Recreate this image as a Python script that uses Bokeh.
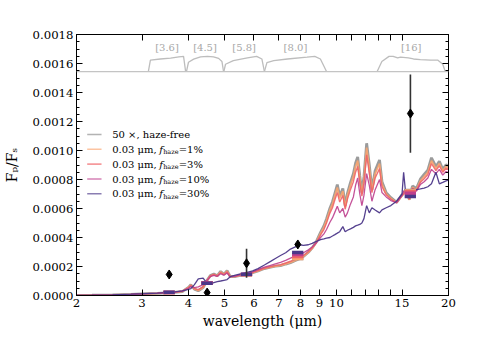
import numpy as np
from bokeh.plotting import figure
from bokeh.models import (Range1d, LinearAxis, LogAxis, FixedTicker, PrintfTickFormatter,
                          CustomJSTickFormatter, Label, Span)
from bokeh.core.properties import value
from bokeh.embed import file_html
from bokeh.resources import INLINE

# ---------------- data (Fp/Fs in units of 1e-4) ----------------
UNIT = 1e-4
wavelength = [2.00, 2.20, 2.50, 2.80, 3.00, 3.30, 3.60, 3.85, 4.00, 4.06,
              4.15, 4.25, 4.38, 4.48, 4.58, 4.68, 4.78, 4.88, 4.98, 5.08,
              5.18, 5.35, 5.55, 5.75, 5.95, 6.15, 6.40, 6.65, 6.85, 7.07,
              7.30, 7.52, 7.75, 7.95, 8.15, 8.40, 8.60, 8.80, 9.06, 9.25,
              9.40, 9.60, 9.75, 9.90, 10.05, 10.20, 10.40, 10.55, 10.70, 10.90,
              11.10, 11.25, 11.40, 11.55, 11.70, 11.85, 12.05, 12.25, 12.45, 12.70,
              13.05, 13.25, 13.60, 14.00, 14.50, 15.00, 15.15, 15.35, 15.70, 16.00,
              16.40, 16.80, 17.20, 17.60, 18.00, 18.50, 18.90, 19.30, 19.70, 20.00]

fp_hazefree = [0.01, 0.02, 0.04, 0.08, 0.11, 0.15, 0.20, 0.27, 0.56, 0.74,
               0.44, 0.33, 0.55, 1.02, 1.38, 1.48, 1.36, 1.66, 1.46, 1.72,
               1.30, 1.31, 1.41, 1.49, 1.57, 1.70, 1.86, 1.96, 2.02, 2.06,
               2.17, 2.27, 2.41, 2.54, 2.70, 2.98, 3.28, 3.65, 4.36, 4.80,
               5.28, 6.02, 6.45, 7.05, 7.65, 6.85, 7.38, 6.20, 7.05, 7.78,
               8.40, 9.12, 9.55, 8.25, 7.10, 8.18, 10.50, 9.00, 7.30, 8.60,
               9.35, 7.85, 7.08, 6.75, 6.42, 6.95, 7.05, 7.30, 6.62, 7.55,
               7.38, 8.02, 8.35, 8.65, 9.50, 8.88, 9.25, 8.70, 9.02, 8.90]

fp_f1 = [0.01, 0.02, 0.04, 0.08, 0.11, 0.15, 0.20, 0.28, 0.55, 0.72,
         0.45, 0.35, 0.55, 1.00, 1.35, 1.45, 1.35, 1.62, 1.45, 1.68,
         1.30, 1.32, 1.42, 1.50, 1.58, 1.70, 1.86, 1.95, 2.02, 2.07,
         2.18, 2.28, 2.42, 2.55, 2.70, 2.97, 3.25, 3.60, 4.28, 4.70,
         5.17, 5.90, 6.30, 6.90, 7.45, 6.70, 7.20, 6.10, 6.90, 7.60,
         8.20, 8.90, 9.30, 8.10, 7.00, 8.00, 10.20, 8.80, 7.24, 8.40,
         9.10, 7.70, 7.00, 6.70, 6.40, 6.90, 7.00, 7.20, 6.60, 7.45,
         7.30, 7.90, 8.20, 8.50, 9.30, 8.76, 9.10, 8.60, 8.90, 8.80]

fp_f3 = [0.01, 0.02, 0.04, 0.08, 0.11, 0.15, 0.20, 0.29, 0.54, 0.70,
         0.47, 0.40, 0.60, 1.02, 1.36, 1.45, 1.36, 1.58, 1.45, 1.64,
         1.30, 1.33, 1.43, 1.51, 1.59, 1.72, 1.88, 1.98, 2.06, 2.12,
         2.24, 2.36, 2.50, 2.62, 2.76, 3.02, 3.28, 3.60, 4.18, 4.55,
         5.00, 5.68, 6.05, 6.60, 7.10, 6.45, 6.90, 5.95, 6.65, 7.30,
         7.85, 8.50, 8.90, 7.80, 6.85, 7.75, 9.70, 8.45, 7.10, 8.10,
         8.75, 7.50, 6.95, 6.65, 6.40, 6.88, 7.02, 7.15, 6.65, 7.40,
         7.25, 7.80, 8.05, 8.35, 9.10, 8.62, 8.95, 8.50, 8.78, 8.70]

fp_f10 = [0.01, 0.02, 0.04, 0.08, 0.11, 0.16, 0.21, 0.30, 0.50, 0.62,
          0.55, 0.60, 0.75, 1.02, 1.30, 1.38, 1.32, 1.50, 1.40, 1.55,
          1.28, 1.33, 1.45, 1.55, 1.63, 1.78, 1.95, 2.08, 2.18, 2.28,
          2.42, 2.58, 2.72, 2.85, 2.95, 3.15, 3.35, 3.60, 4.00, 4.25,
          4.55, 5.05, 5.35, 5.75, 6.15, 5.70, 6.00, 5.40, 5.70, 6.30,
          6.80, 7.60, 8.10, 7.00, 6.20, 6.90, 8.40, 7.60, 6.50, 7.30,
          8.00, 7.10, 6.80, 6.55, 6.40, 6.90, 7.20, 7.10, 6.70, 7.35,
          7.20, 7.65, 7.85, 8.10, 8.70, 8.40, 8.70, 8.30, 8.55, 8.50]

fp_f30 = [0.01, 0.02, 0.05, 0.09, 0.12, 0.17, 0.22, 0.32, 0.42, 0.48,
          0.75, 1.15, 1.20, 0.85, 0.80, 0.88, 0.95, 1.00, 1.05, 1.10,
          1.30, 1.40, 1.50, 1.60, 1.70, 1.85, 2.10, 2.35, 2.55, 2.76,
          2.95, 3.20, 3.35, 3.50, 3.45, 3.50, 3.60, 3.72, 3.85, 3.90,
          3.95, 4.00, 4.10, 4.20, 4.30, 4.40, 4.75, 4.40, 4.50, 4.60,
          4.70, 4.80, 4.85, 4.90, 5.00, 5.30, 6.20, 5.70, 6.05, 5.90,
          5.70, 5.90, 6.05, 6.20, 6.50, 7.00, 8.50, 7.00, 7.10, 7.24,
          7.30, 7.35, 7.40, 7.50, 7.70, 8.50, 7.70, 7.80, 7.90, 7.95]

# band-integrated models and observations
band_wl = [3.55, 4.49, 5.73, 7.87, 15.8]
band_hazefree = [0.20, 0.88, 1.43, 2.55, 7.24]
band_f1 = [0.20, 0.88, 1.43, 2.56, 7.20]
band_f3 = [0.20, 0.87, 1.44, 2.69, 7.15]
band_f10 = [0.21, 0.86, 1.45, 2.83, 7.05]
band_f30 = [0.22, 0.84, 1.46, 2.97, 6.83]
obs = [1.45, 0.20, 2.22, 3.52, 12.55]
obs_err = [0.20, 0.10, 1.00, 0.25, 2.70]

# filter transmission curves
filter_names = ["[3.6]", "[4.5]", "[5.8]", "[8.0]", "[16]"]
filter_wl = [
    [3.12, 3.16, 3.36, 3.58, 3.77, 3.88, 3.93],
    [3.95, 4.00, 4.13, 4.31, 4.50, 4.67, 4.82, 4.92, 4.97],
    [4.98, 5.03, 5.28, 5.76, 6.10, 6.30, 6.40],
    [6.40, 6.50, 6.78, 7.38, 8.33, 8.74, 9.05, 9.40],
    [12.86, 13.24, 13.84, 14.2, 14.6, 14.86, 15.6, 16.1, 16.8, 17.9, 18.7, 19.3, 19.6],
]
filter_tr = [
    [0.0, 0.74, 0.81, 0.86, 0.95, 0.98, 0.0],
    [0.0, 0.60, 0.80, 0.95, 0.98, 0.95, 0.85, 0.65, 0.0],
    [0.0, 0.47, 0.70, 0.88, 0.98, 0.81, 0.0],
    [0.0, 0.58, 0.70, 0.81, 0.93, 0.98, 0.81, 0.0],
    [0.0, 0.65, 0.98, 0.98, 0.88, 0.93, 0.88, 0.81, 0.77, 0.74, 0.74, 0.47, 0.0],
]

x_ticks = [2, 3, 4, 5, 6, 7, 8, 9, 10, 15, 20]
x_minor_ticks = [11, 12, 13, 14]
y_ticks = [0.0, 0.0002, 0.0004, 0.0006, 0.0008, 0.0010, 0.0012, 0.0014, 0.0016, 0.0018]

legend_main = ["50 \u00d7, haze-free", "0.03 \u03bcm, ", "0.03 \u03bcm, ", "0.03 \u03bcm, ", "0.03 \u03bcm, "]
legend_tail = [None, "=1%", "=3%", "=10%", "=30%"]

# ---------------- styles ----------------
colors = ["#8a8a8a", "#fba56f", "#ef6467", "#be3f8d", "#4c3789"]
widths = [2.8, 1.7, 1.4, 1.3, 1.3]
alphas = [0.85, 0.9, 0.9, 0.9, 0.95]
FONT = "DejaVu Serif"

p = figure(width=498, height=349, x_axis_type="log",
           x_range=Range1d(2, 20), y_range=Range1d(0, 0.0018),
           output_backend="svg", toolbar_location=None,
           min_border_left=76, min_border_right=50, min_border_top=34, min_border_bottom=54)
p.grid.visible = False
p.outline_line_color = "black"
p.outline_line_width = 1
p.background_fill_color = "white"
p.border_fill_color = "white"

FILT_START, FILT_END = -14.45, 2.39
p.extra_y_ranges = {"filt": Range1d(FILT_START, FILT_END)}

xt = FixedTicker(ticks=x_ticks, minor_ticks=x_minor_ticks)
y_minor = [i * 0.00005 for i in range(37) if i % 4]
yt = FixedTicker(ticks=y_ticks, minor_ticks=y_minor)
blank = CustomJSTickFormatter(code="return ''")


def style_axis(ax, minor_len):
    ax.axis_line_color = "black"
    ax.axis_line_width = 1
    ax.major_tick_in = 6
    ax.major_tick_out = 0
    ax.minor_tick_in = minor_len
    ax.minor_tick_out = 0
    ax.major_tick_line_color = "black"
    ax.minor_tick_line_color = "black"
    ax.major_label_text_font = FONT
    ax.major_label_text_font_size = "11.7px"
    ax.major_label_text_color = "black"
    ax.major_label_standoff = 3
    ax.axis_label_text_font = FONT
    ax.axis_label_text_font_size = "14px"
    ax.axis_label_text_font_style = "normal"
    ax.axis_label_text_color = "black"


xb = p.xaxis[0]
xb.ticker = xt
xb.formatter = PrintfTickFormatter(format="%d")
style_axis(xb, 6)
xb.axis_label = "wavelength (\u03bcm)"
xb.axis_label_standoff = 3

yl = p.yaxis[0]
yl.ticker = yt
yl.formatter = PrintfTickFormatter(format="%.4f")
style_axis(yl, 3)
yl.axis_label = "F\u209a/F\u209b"
yl.axis_label_standoff = 10

top = LogAxis(ticker=xt, formatter=blank)
style_axis(top, 6)
p.add_layout(top, "above")
right = LinearAxis(ticker=yt, formatter=blank)
style_axis(right, 3)
p.add_layout(right, "right")

# ---------------- filter panel ----------------
base = 0.0018 * (0 - FILT_START) / (FILT_END - FILT_START)
p.add_layout(Span(location=base, dimension="width", line_color="#c4c4c4", line_width=1.2))
for fw, ftr in zip(filter_wl, filter_tr):
    p.line(fw, ftr, y_range_name="filt", line_color="#bdbdbd", line_width=1.3)
centers = [float(np.sqrt(min(w) * max(w))) for w in filter_wl]
p.text(x=centers, y=[1.52] * len(centers), text=filter_names, y_range_name="filt",
       text_align="center", text_baseline="middle", text_font=value(FONT),
       text_font_size="10px", text_color="#a8a8a8")

# ---------------- spectra ----------------
wl = np.array(wavelength)
spectra = [fp_hazefree, fp_f1, fp_f3, fp_f10, fp_f30]
bands = [band_hazefree, band_f1, band_f3, band_f10, band_f30]
for vals, c, w, a in zip(spectra, colors, widths, alphas):
    p.line(wl, np.array(vals) * UNIT, line_color=c, line_width=w, line_alpha=a)

bw = np.array(band_wl)
for vals, c in zip(bands, colors):
    v = np.array(vals) * UNIT
    p.segment(x0=bw * 0.965, x1=bw * 1.035, y0=v, y1=v, line_color=c, line_width=3.5)

ob = np.array(obs) * UNIT
oe = np.array(obs_err) * UNIT
p.segment(x0=bw, x1=bw, y0=ob - oe, y1=ob + oe, line_color="#333333", line_width=1.6)
p.scatter(bw, ob, marker="diamond", size=9, color="black")

# ---------------- legend (drawn by hand so that f_haze can carry a subscript) ----------------
leg_y = [0.001110, 0.001009, 0.000906, 0.000803, 0.000702]
leg_x0, leg_x1, leg_tx = 2.137, 2.335, 2.494
p.segment(x0=[leg_x0] * 5, x1=[leg_x1] * 5, y0=leg_y, y1=leg_y,
          line_color=colors, line_width=1.6, line_alpha=0.65)
for i, y in enumerate(leg_y):
    p.add_layout(Label(x=leg_tx, y=y, text=legend_main[i], text_font=FONT,
                       text_font_size="10px", text_baseline="middle", text_color="black"))
    if legend_tail[i] is not None:
        p.add_layout(Label(x=leg_tx, y=y, x_offset=47, text="f", text_font=FONT,
                           text_font_style="italic", text_font_size="10px",
                           text_baseline="middle", text_color="black"))
        p.add_layout(Label(x=leg_tx, y=y, x_offset=51, y_offset=-3, text="haze", text_font=FONT,
                           text_font_size="6.5px", text_baseline="middle", text_color="black"))
        p.add_layout(Label(x=leg_tx, y=y, x_offset=66.5, text=legend_tail[i], text_font=FONT,
                           text_font_size="10px", text_baseline="middle", text_color="black"))

open("out.html", "w").write(file_html(p, INLINE))
